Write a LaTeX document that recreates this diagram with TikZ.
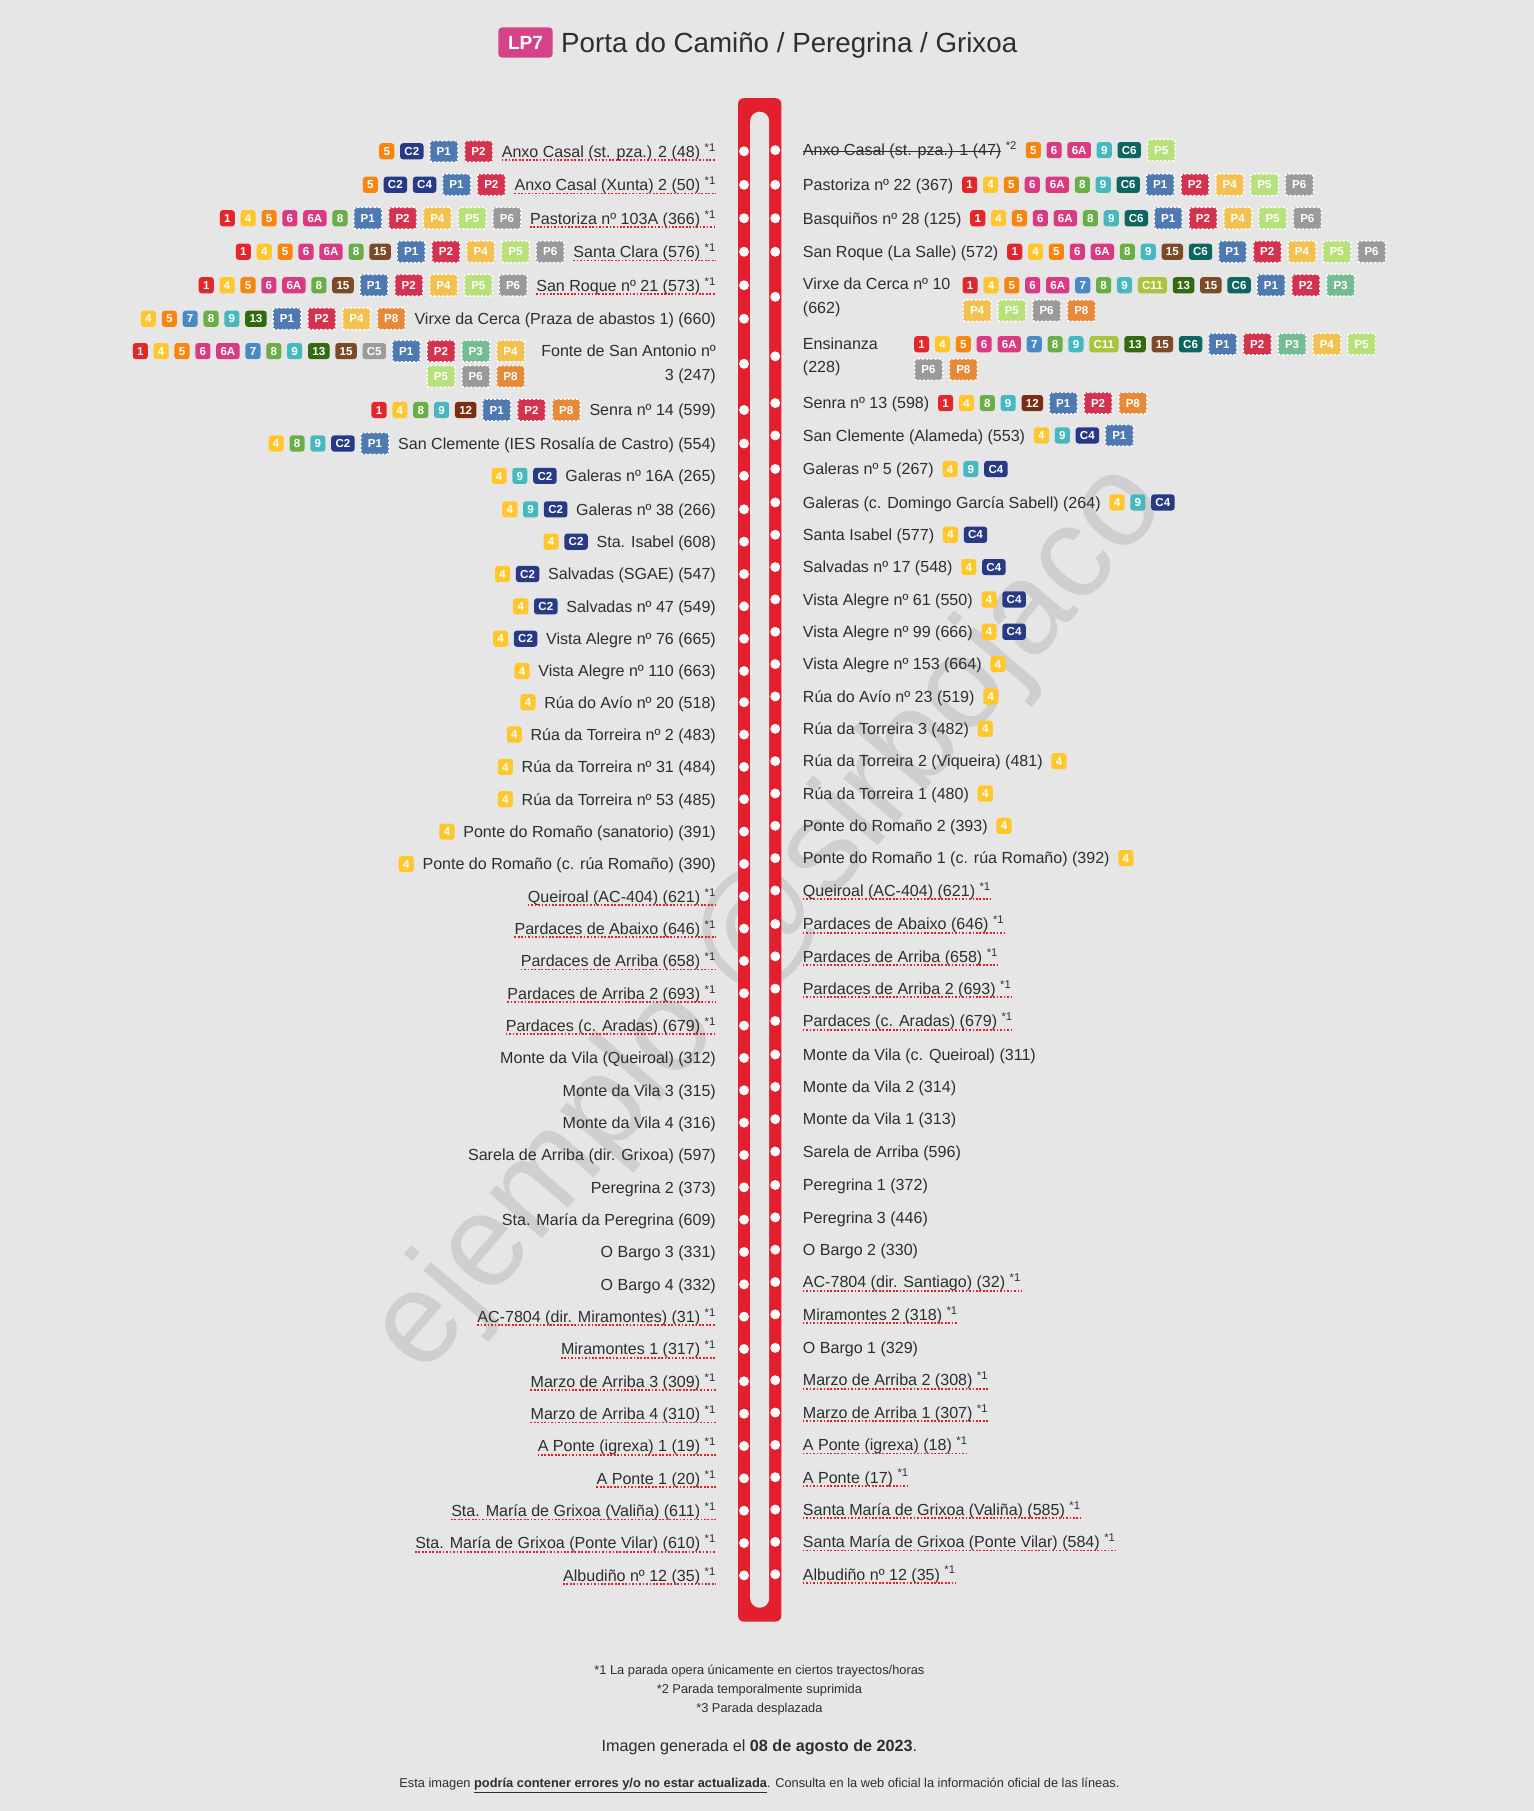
\documentclass[tikz,border=0pt]{standalone}
\usepackage{fontspec}
\setmainfont{Liberation Sans}
\usepackage{xcolor}
\usepackage{tikz}
\definecolor{fondo}{HTML}{E6E6E6}
\definecolor{texto}{HTML}{2E2E2E}
\definecolor{marca}{HTML}{CFCFCF}
\definecolor{via}{HTML}{E31E2D}
\definecolor{lp}{HTML}{D6428A}
\definecolor{c1}{HTML}{E3262B}
\definecolor{c4}{HTML}{FFC72C}
\definecolor{c5}{HTML}{F7860F}
\definecolor{c6}{HTML}{D93B83}
\definecolor{c7}{HTML}{4A8AC4}
\definecolor{c8}{HTML}{6AAE47}
\definecolor{c9}{HTML}{45B9BF}
\definecolor{c12}{HTML}{7A2D12}
\definecolor{c13}{HTML}{336A0D}
\definecolor{c15}{HTML}{7B4B29}
\definecolor{cC2}{HTML}{283A86}
\definecolor{cC5}{HTML}{9B9B9B}
\definecolor{cC6}{HTML}{0E6660}
\definecolor{cC11}{HTML}{AAC43B}
\definecolor{cP1}{HTML}{4F79B1}
\definecolor{cP2}{HTML}{D3334F}
\definecolor{cP3}{HTML}{74BC93}
\definecolor{cP4}{HTML}{F2C14F}
\definecolor{cP5}{HTML}{B8E07B}
\definecolor{cP6}{HTML}{9A9A9A}
\definecolor{cP8}{HTML}{E68A3A}

\tikzset{
  stop/.style={inner sep=0, text height=10, text depth=0, text=texto, font=\fontsize{13.9}{20}\selectfont},
  stop2/.style={inner sep=0, text=texto, font=\fontsize{13.9}{20.5}\selectfont},
  uline/.style={via, line width=1.5, dash pattern=on 1.5pt off 1.5pt},
  bdg/.style={rounded corners=2.5, inner sep=0, inner xsep=3.75, minimum width=13, minimum height=14,
    text height=7.2, text depth=0, text=white, font=\fontsize{10}{10}\selectfont\bfseries},
  pbdg/.style={bdg, minimum width=24.2, minimum height=18.7, rounded corners=1.5,
    draw=white, line width=1.3, dash pattern=on 2pt off 1.6pt},
  badge/.style={b#1},
  b1/.style={bdg, fill=c1}, b4/.style={bdg, fill=c4}, b5/.style={bdg, fill=c5},
  b6/.style={bdg, fill=c6}, b6A/.style={bdg, fill=c6}, b7/.style={bdg, fill=c7},
  b8/.style={bdg, fill=c8}, b9/.style={bdg, fill=c9}, b12/.style={bdg, fill=c12},
  b13/.style={bdg, fill=c13}, b15/.style={bdg, fill=c15},
  bC2/.style={bdg, fill=cC2}, bC4/.style={bdg, fill=cC2}, bC5/.style={bdg, fill=cC5},
  bC6/.style={bdg, fill=cC6}, bC11/.style={bdg, fill=cC11},
  bP1/.style={pbdg, fill=cP1}, bP2/.style={pbdg, fill=cP2}, bP3/.style={pbdg, fill=cP3},
  bP4/.style={pbdg, fill=cP4}, bP5/.style={pbdg, fill=cP5}, bP6/.style={pbdg, fill=cP6},
  bP8/.style={pbdg, fill=cP8},
  foot/.style={inner sep=0, text=texto, font=\fontsize{11.1}{12}\selectfont}
}

\newcommand*\none{-}
% struck-out text
\newcommand\tachar[1]{\setbox0=\hbox{#1}\rlap{\rule[3.5pt]{\wd0}{1.1pt}}\box0}
% reverse a list held in a macro, into \rl
\newcommand\revlist[1]{\gdef\rl{}\foreach \x in #1 {\xdef\rl{\x\ifx\rl\empty\else,\rl\fi}}}
% badge rows: #1 name prefix, #2 start point, #3 list macro
\newcommand\badgesright[3]{%
  \node[inner sep=0, minimum size=0] (#1s) at #2 {};
  \xdef\prev{#1s}%
  \foreach \b in #3 {\node[badge/.expanded=\b, anchor=west] (#1\b) at ([xshift=4.6pt]\prev.east) {\b}; \xdef\prev{#1\b}}}
\newcommand\badgesleft[3]{%
  \node[inner sep=0, minimum size=0] (#1s) at #2 {};
  \xdef\prev{#1s}\revlist#3%
  \foreach \b in \rl {\node[badge/.expanded=\b, anchor=east] (#1\b) at ([xshift=-4.6pt]\prev.west) {\b}; \xdef\prev{#1\b}}}

\begin{document}
\begin{tikzpicture}[x=1pt, y=-1pt]
    \useasboundingbox (0,0) rectangle (1328,1568);
    \fill[fondo] (0,0) rectangle (1328,1568);

    % watermark
    \node[rotate=49.5, inner sep=0, text height=59, text depth=0, text=marca,
      font=\fontsize{113}{113}\selectfont] (marcaagua) at (667,796) {ejemplo @sirbojaco};

    % title
    \node[fill=lp, rounded corners=3, inner sep=0, minimum width=47, minimum height=26, text height=12, text depth=0,
      text=white, font=\fontsize{16.5}{16.5}\selectfont\bfseries] (lp7) at (455,36.8) {LP7};
    \node[anchor=west, inner sep=0, text height=17, text depth=0, text=texto, font=\fontsize{24}{24}\selectfont]
      (titulo) at ([xshift=7pt]lp7.east) {Porta do Camiño / Peregrina / Grixoa};

    % the line
    \fill[via, rounded corners=5] (639,85) rectangle (676.5,1404);
    \fill[fondo, rounded corners=8.25] (649.5,96.7) rectangle (666,1392);

    % going
    \foreach \y/\nt/\nm/\bl [count=\i] in {
      131/1/{Anxo Casal (st. pza.) 2 (48)}/{5,C2,P1,P2},
      160/1/{Anxo Casal (Xunta) 2 (50)}/{5,C2,C4,P1,P2},
      189/1/{Pastoriza nº 103A (366)}/{1,4,5,6,6A,8,P1,P2,P4,P5,P6},
      218/1/{Santa Clara (576)}/{1,4,5,6,6A,8,15,P1,P2,P4,P5,P6},
      247/1/{San Roque nº 21 (573)}/{1,4,5,6,6A,8,15,P1,P2,P4,P5,P6},
      276/0/{Virxe da Cerca (Praza de abastos 1) (660)}/{4,5,7,8,9,13,P1,P2,P4,P8},
      355/0/{Senra nº 14 (599)}/{1,4,8,9,12,P1,P2,P8},
      384/0/{San Clemente (IES Rosalía de Castro) (554)}/{4,8,9,C2,P1},
      412/0/{Galeras nº 16A (265)}/{4,9,C2},
      441/0/{Galeras nº 38 (266)}/{4,9,C2},
      469/0/{Sta. Isabel (608)}/{4,C2},
      497/0/{Salvadas (SGAE) (547)}/{4,C2},
      525/0/{Salvadas nº 47 (549)}/{4,C2},
      553/0/{Vista Alegre nº 76 (665)}/{4,C2},
      581/0/{Vista Alegre nº 110 (663)}/{4},
      608/0/{Rúa do Avío nº 20 (518)}/{4},
      636/0/{Rúa da Torreira nº 2 (483)}/{4},
      664/0/{Rúa da Torreira nº 31 (484)}/{4},
      692/0/{Rúa da Torreira nº 53 (485)}/{4},
      720/0/{Ponte do Romaño (sanatorio) (391)}/{4},
      748/0/{Ponte do Romaño (c. rúa Romaño) (390)}/{4},
      776/1/{Queiroal (AC-404) (621)}/-,
      804/1/{Pardaces de Abaixo (646)}/-,
      832/1/{Pardaces de Arriba (658)}/-,
      860/1/{Pardaces de Arriba 2 (693)}/-,
      888/1/{Pardaces (c. Aradas) (679)}/-,
      916/0/{Monte da Vila (Queiroal) (312)}/-,
      944/0/{Monte da Vila 3 (315)}/-,
      972/0/{Monte da Vila 4 (316)}/-,
      1000/0/{Sarela de Arriba (dir. Grixoa) (597)}/-,
      1028/0/{Peregrina 2 (373)}/-,
      1056/0/{Sta. María da Peregrina (609)}/-,
      1084/0/{O Bargo 3 (331)}/-,
      1112/0/{O Bargo 4 (332)}/-,
      1140/1/{AC-7804 (dir. Miramontes) (31)}/-,
      1168/1/{Miramontes 1 (317)}/-,
      1196/1/{Marzo de Arriba 3 (309)}/-,
      1224/1/{Marzo de Arriba 4 (310)}/-,
      1252/1/{A Ponte (igrexa) 1 (19)}/-,
      1280/1/{A Ponte 1 (20)}/-,
      1308/1/{Sta. María de Grixoa (Valiña) (611)}/-,
      1336/1/{Sta. María de Grixoa (Ponte Vilar) (610)}/-,
      1364/1/{Albudiño nº 12 (35)}/-}{
      \fill[white] (644.2,\y) circle (4.3);
      \node[stop, anchor=east] (l\i) at (620,\y) {\nm\ifnum\nt=1\relax\ \textsuperscript{*1}\fi};
      \ifnum\nt=1\relax \draw[uline] ([yshift=-2.5pt]l\i.base west) -- ([yshift=-2.5pt]l\i.base east);\fi
      \edef\tmp{\bl}\ifx\tmp\none\else\badgesleft{lb\i}{([xshift=-2.4pt]l\i.west)}\bl\fi
    }
    \fill[white] (644.2,315) circle (4.3);
    \node[stop2, anchor=east, align=right] (lfonte) at (620,315.4) {Fonte de San Antonio nº\\3 (247)};
    \def\bl{1,4,5,6,6A,7,8,9,13,15,C5,P1,P2,P3,P4}\badgesleft{lfa}{(459.6,304)}\bl
    \def\bl{P5,P6,P8}\badgesleft{lfb}{(459.6,326)}\bl

    % return
    \foreach \y/\nt/\nm/\bl [count=\i] in {
      130/2/{Anxo Casal (st. pza.) 1 (47)}/{5,6,6A,9,C6,P5},
      160/0/{Pastoriza nº 22 (367)}/{1,4,5,6,6A,8,9,C6,P1,P2,P4,P5,P6},
      189/0/{Basquiños nº 28 (125)}/{1,4,5,6,6A,8,9,C6,P1,P2,P4,P5,P6},
      218/0/{San Roque (La Salle) (572)}/{1,4,5,6,6A,8,9,15,C6,P1,P2,P4,P5,P6},
      349/0/{Senra nº 13 (598)}/{1,4,8,9,12,P1,P2,P8},
      377/0/{San Clemente (Alameda) (553)}/{4,9,C4,P1},
      406/0/{Galeras nº 5 (267)}/{4,9,C4},
      435/0/{Galeras (c. Domingo García Sabell) (264)}/{4,9,C4},
      463/0/{Santa Isabel (577)}/{4,C4},
      491/0/{Salvadas nº 17 (548)}/{4,C4},
      519/0/{Vista Alegre nº 61 (550)}/{4,C4},
      547/0/{Vista Alegre nº 99 (666)}/{4,C4},
      575/0/{Vista Alegre nº 153 (664)}/{4},
      603/0/{Rúa do Avío nº 23 (519)}/{4},
      631/0/{Rúa da Torreira 3 (482)}/{4},
      659/0/{Rúa da Torreira 2 (Viqueira) (481)}/{4},
      687/0/{Rúa da Torreira 1 (480)}/{4},
      715/0/{Ponte do Romaño 2 (393)}/{4},
      743/0/{Ponte do Romaño 1 (c. rúa Romaño) (392)}/{4},
      771/1/{Queiroal (AC-404) (621)}/-,
      800/1/{Pardaces de Abaixo (646)}/-,
      828/1/{Pardaces de Arriba (658)}/-,
      856/1/{Pardaces de Arriba 2 (693)}/-,
      884/1/{Pardaces (c. Aradas) (679)}/-,
      913/0/{Monte da Vila (c. Queiroal) (311)}/-,
      941/0/{Monte da Vila 2 (314)}/-,
      969/0/{Monte da Vila 1 (313)}/-,
      997/0/{Sarela de Arriba (596)}/-,
      1026/0/{Peregrina 1 (372)}/-,
      1054/0/{Peregrina 3 (446)}/-,
      1082/0/{O Bargo 2 (330)}/-,
      1110/1/{AC-7804 (dir. Santiago) (32)}/-,
      1138/1/{Miramontes 2 (318)}/-,
      1167/0/{O Bargo 1 (329)}/-,
      1195/1/{Marzo de Arriba 2 (308)}/-,
      1223/1/{Marzo de Arriba 1 (307)}/-,
      1251/1/{A Ponte (igrexa) (18)}/-,
      1279/1/{A Ponte (17)}/-,
      1307/1/{Santa María de Grixoa (Valiña) (585)}/-,
      1335/1/{Santa María de Grixoa (Ponte Vilar) (584)}/-,
      1363/1/{Albudiño nº 12 (35)}/-}{
      \fill[white] (671.2,\y) circle (4.3);
      \node[stop, anchor=west] (r\i) at (695,\y)
        {\ifnum\nt=2\relax\tachar{\nm}\ \textsuperscript{*2}\else\nm\ifnum\nt=1\relax\ \textsuperscript{*1}\fi\fi};
      \ifnum\nt=1\relax \draw[uline] ([yshift=-2.5pt]r\i.base west) -- ([yshift=-2.5pt]r\i.base east);\fi
      \edef\tmp{\bl}\ifx\tmp\none\else\badgesright{rb\i}{([xshift=2.4pt]r\i.east)}\bl\fi
    }
    \fill[white] (671.2,257) circle (4.3);
    \node[stop2, anchor=west, align=left] (rvirxe) at (695,257.4) {Virxe da Cerca nº 10\\(662)};
    \def\bl{1,4,5,6,6A,7,8,9,C11,13,15,C6,P1,P2,P3}\badgesright{rva}{(828.4,247)}\bl
    \def\bl{P4,P5,P6,P8}\badgesright{rvb}{(828.4,269)}\bl
    \fill[white] (671.2,308.5) circle (4.3);
    \node[stop2, anchor=west, align=left] (rensin) at (695,308.9) {Ensinanza\\(228)};
    \def\bl{1,4,5,6,6A,7,8,9,C11,13,15,C6,P1,P2,P3,P4,P5}\badgesright{rea}{(786.4,298)}\bl
    \def\bl{P6,P8}\badgesright{reb}{(786.4,320)}\bl

    % notes
    \node[foot] (nota1) at (657.5,1447) {*1 La parada opera únicamente en ciertos trayectos/horas};
    \node[foot] (nota2) at (657.5,1463.5) {*2 Parada temporalmente suprimida};
    \node[foot] (nota3) at (657.5,1480) {*3 Parada desplazada};
    \node[foot, font=\fontsize{14}{16}\selectfont] (fecha) at (657.5,1513)
      {Imagen generada el \textbf{08 de agosto de 2023}.};
    \node[foot] (aviso) at (657.5,1546)
      {Esta imagen \textbf{\underline{podría contener errores y/o no estar actualizada}}. Consulta en la web oficial la información oficial de las líneas.};
\end{tikzpicture}
\end{document}
